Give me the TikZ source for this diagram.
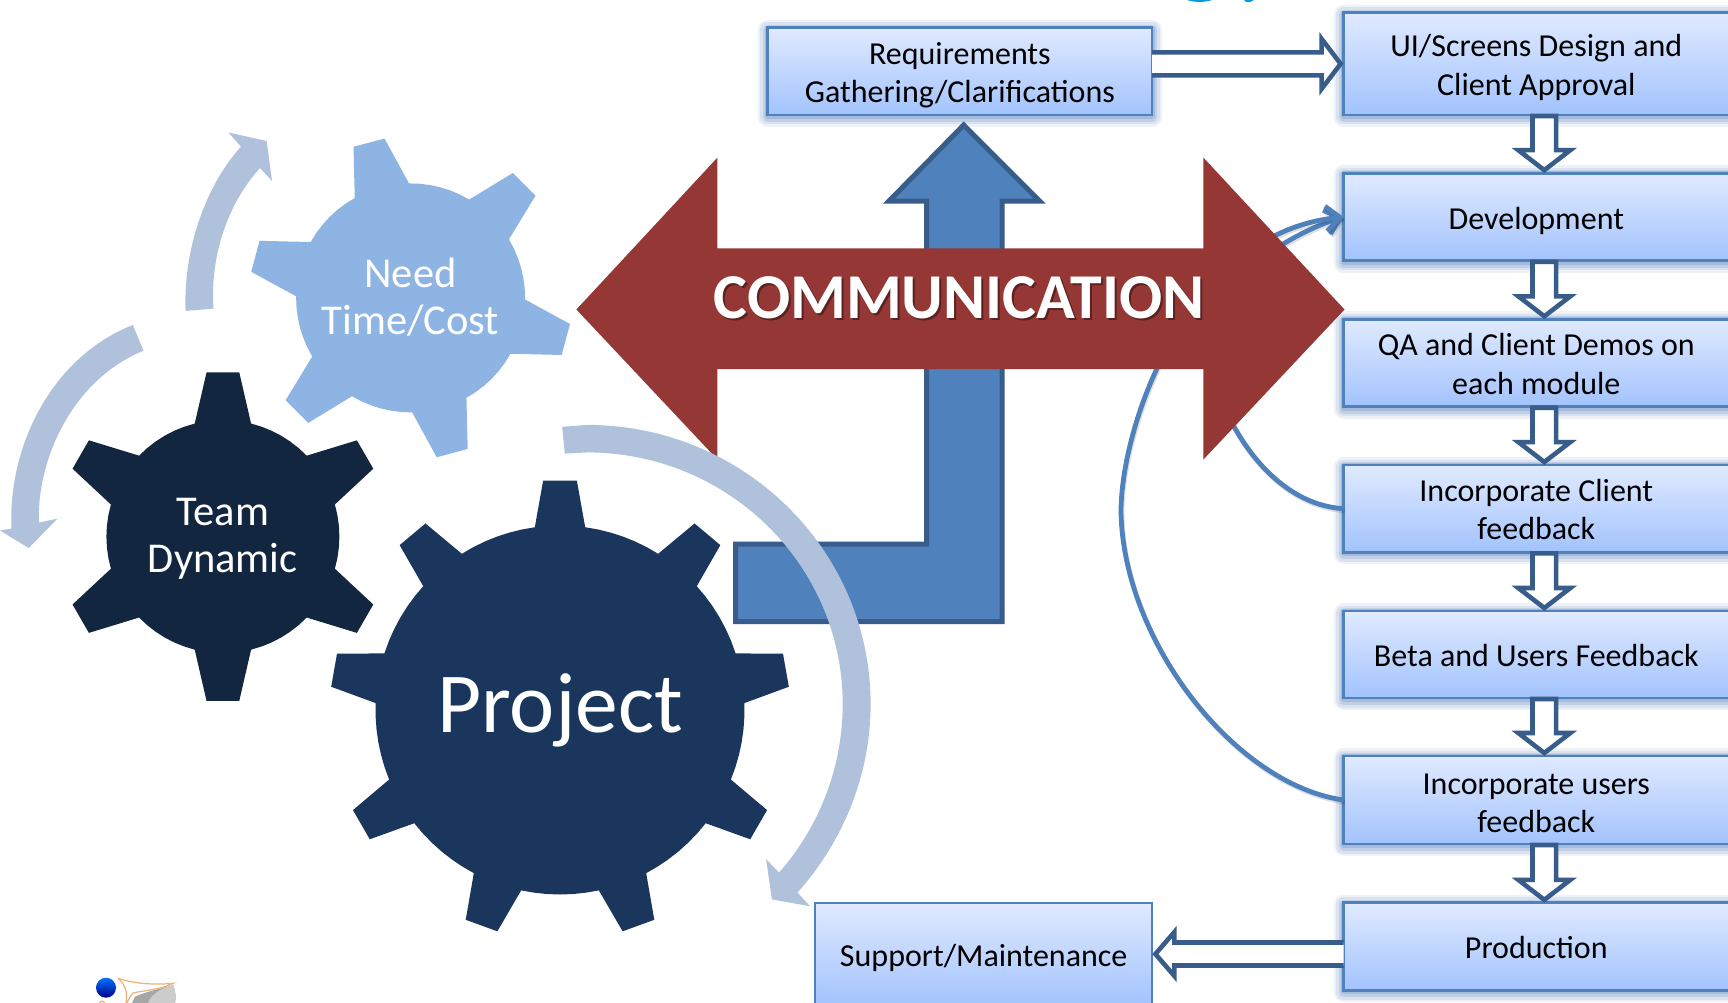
\documentclass[tikz,border=0pt]{standalone}
\usepackage{fontspec}
\setmainfont{Carlito}
\usetikzlibrary{calc,arrows.meta}
\definecolor{needc}{HTML}{8EB4E3}
\definecolor{teamc}{HTML}{12263F}
\definecolor{projc}{HTML}{1A365D}
\definecolor{arcc}{HTML}{B0C1DC}
\definecolor{redc}{HTML}{953735}
\definecolor{bluec}{HTML}{4F81BD}
\definecolor{blued}{HTML}{385D8A}
\definecolor{glowc}{HTML}{5F83BE}
\definecolor{boxtop}{HTML}{E0EAFF}
\definecolor{boxbot}{HTML}{A2C3FD}
\tikzset{
  basebox/.style={draw=bluec,top color=boxtop,bottom color=boxbot,inner sep=0pt,outer sep=0pt},
  boxlabel/.style={inner sep=0pt,outer sep=0pt,align=center,text=black,font=\fontsize{32}{38.5}\selectfont},
  glowbox/.style={basebox,line width=2.8pt,
    preaction={draw=glowc,line width=20pt,opacity=.10,line join=round,transform canvas={yshift=-2pt}},
    preaction={draw=glowc,line width=15pt,opacity=.14,line join=round,transform canvas={yshift=-2pt}},
    preaction={draw=glowc,line width=10pt,opacity=.20,line join=round,transform canvas={yshift=-2pt}},
    preaction={draw=glowc,line width=6pt,opacity=.26,line join=round,transform canvas={yshift=-1pt}}},
  hollow/.style={draw=blued,fill=white,line width=4.6pt,line join=miter},
  feedback/.style={draw=bluec,line width=4.8pt,
    preaction={draw=black,line width=4.8pt,opacity=.12,transform canvas={yshift=-2pt,xshift=1pt}}},
  geartext/.style={text=white,align=center,font=\fontsize{42.5}{46.7}\selectfont},
  flowbar/.style={draw=blued,fill=bluec,line width=5pt,line join=miter},
}
% centre x, centre y, teeth, first tooth angle, body radius, base half angle, tip radius, tip half angle, colour
\newcommand{\gearshape}[9]{%
  \fill[#9,shift={(#1,#2)}] ({#4-#6}:#5)
    \foreach \k [evaluate=\k as \aa using #4+\k*360/#3,
                 evaluate=\k as \bb using #4+\k*360/#3+#6,
                 evaluate=\k as \cc using #4+(\k+1)*360/#3-#6] in {0,...,\numexpr#3-1\relax}{
      -- ({\aa-#8}:#7) -- ({\aa+#8}:#7) -- (\bb:#5)
      -- plot[domain=\bb:\cc,samples=7] (\x:#5)
    } -- cycle;}
\newcommand{\hollowdown}[2]{%
  \path[hollow] let \p1=([xshift=8pt]#1.south),\p2=([xshift=8pt]#2.north) in
    (\x1-11.8pt,\y1-1pt) -- (\x1-11.8pt,\y2+23pt) -- (\x1-26pt,\y2+23pt) -- (\x1,\y2+3pt)
    -- (\x1+26pt,\y2+23pt) -- (\x1+11.8pt,\y2+23pt) -- (\x1+11.8pt,\y1-1pt) -- cycle;}
\newcommand{\hollowright}[2]{%
  \path[hollow] let \p1=(#1.east),\p2=(#2.west) in
    (\x1,\y2+11.5pt) -- (\x2-22pt,\y2+11.5pt) -- (\x2-22pt,\y2+25pt) -- (\x2-3pt,\y2)
    -- (\x2-22pt,\y2-25pt) -- (\x2-22pt,\y2-11.5pt) -- (\x1,\y2-11.5pt);}
\newcommand{\hollowleft}[2]{%
  \path[hollow] let \p1=(#1.west),\p2=(#2.east) in
    (\x1,\y2+11.5pt) -- (\x2+22pt,\y2+11.5pt) -- (\x2+22pt,\y2+22pt) -- (\x2+3pt,\y2)
    -- (\x2+22pt,\y2-22pt) -- (\x2+22pt,\y2-11.5pt) -- (\x1,\y2-11.5pt);}
\begin{document}
\begin{tikzpicture}[x=1pt,y=-1pt]
\useasboundingbox (0,0) rectangle (1728,1003);
\clip (0,0) rectangle (1728,1003);
\fill[white] (0,0) rectangle (1728,1003);

% title fragments cut by the top edge
\fill[cyan!85!blue] (1187,0) -- (1212,0) .. controls (1206,2.5) and (1193,2.5) .. (1187,0) -- cycle;
\fill[cyan!85!blue] (1244,0) -- (1254,0) -- (1250,2) -- (1246,2) -- cycle;

% gears
\gearshape{410.6}{297.9}{6}{15}{114.5}{14.2}{161.5}{5.7}{needc}
\gearshape{222.9}{536.6}{6}{-90}{116.5}{14}{165}{5.7}{teamc}
\gearshape{560}{710}{9}{-90}{184.5}{7.85}{230}{4.2}{projc}
\node[geartext] (need) at (410.5,297) {Need\\Time/Cost};
\node[geartext] (team) at (222.8,539) {Team\\Dynamic};
\node[text=white,font=\fontsize{85.5}{92}\selectfont] (proj) at (560,710.5) {Project};

% boxes
\node[glowbox,minimum width=384.3pt,minimum height=87.3pt,label={[boxlabel,yshift=-4pt]center:Requirements\\Gathering/Clarifications}] (req) at (959.9,71.3) {};
\node[glowbox,minimum width=385.4pt,minimum height=102.3pt,label={[boxlabel,yshift=-3.5pt]center:UI/Screens Design and\\Client Approval}] (ui) at (1536.3,63.85) {};
\node[glowbox,minimum width=385.4pt,minimum height=87.7pt,label={[boxlabel,yshift=-3.5pt]center:Development}] (dev) at (1536.3,217) {};
\node[glowbox,minimum width=385.4pt,minimum height=87.4pt,label={[boxlabel,yshift=-.8pt]center:QA and Client Demos on\\each module}] (qa) at (1536.3,363) {};
\node[glowbox,minimum width=385.4pt,minimum height=87.3pt,label={[boxlabel,yshift=-.8pt]center:Incorporate Client\\feedback}] (incc) at (1536.3,508.7) {};
\node[glowbox,minimum width=385.4pt,minimum height=87pt,label={[boxlabel,yshift=-1pt]center:Beta and Users Feedback}] (beta) at (1536.3,654.5) {};
\node[glowbox,minimum width=385.4pt,minimum height=88pt,label={[boxlabel,yshift=-3.5pt]center:Incorporate users\\feedback}] (incu) at (1536.3,800) {};
\node[glowbox,minimum width=385.4pt,minimum height=87.3pt,label={[boxlabel,yshift=-1pt]center:Production}] (prod) at (1536.3,946.5) {};
\node[basebox,line width=2pt,minimum width=337.4pt,minimum height=102pt,label={[boxlabel,yshift=-3.5pt]center:Support/Maintenance}] (sup) at (983.7,954) {};

% feedback connectors (behind the red arrow)
\coordinate (via1) at (1205,350);
\coordinate (via2) at (1121,510);
\draw[feedback,-{Straight Barb[length=14pt,width=25pt]}] (incc.west) .. controls (1280,505) and (1226,440) .. (via1) .. controls (1200,290) and (1285,235) .. (dev.west);
\draw[feedback,-{Straight Barb[length=14pt,width=25pt]}] (incu.west) .. controls (1235,785) and (1122,640) .. (via2) .. controls (1122,420) and (1190,232) .. (dev.west);

% hollow flow arrows
\hollowright{req}{ui}
\hollowdown{ui}{dev}
\hollowdown{dev}{qa}
\hollowdown{qa}{incc}
\hollowdown{incc}{beta}
\hollowdown{beta}{incu}
\hollowdown{incu}{prod}
\hollowleft{prod}{sup}

% bent blue arrow
\path[flowbar] (963.7,125) -- (1039.5,201) -- (1002,201) -- (1002,621.5) -- (735.5,621.5) -- (735.5,544) -- (926.5,544) -- (926.5,201) -- (889,201) -- cycle;

% red double arrow
\fill[redc] (576.4,309.5) -- (717.4,157.6) -- (717.4,248.3) -- (1203.4,248.3) -- (1203.4,157.6) -- (1344.5,309.5) -- (1203.4,459.5) -- (1203.4,369) -- (717.4,369) -- (717.4,459.5) -- cycle;
\node[text=black,opacity=.4,font=\fontsize{63.9}{70}\bfseries\selectfont] (commshade) at (961,299.6) {COMMUNICATION};
\node[text=white,font=\fontsize{63.9}{70}\bfseries\selectfont] (comm) at (959,297.6) {COMMUNICATION};

% curved cycle arrows
\fill[arcc] (185.6,310.9) .. controls (183,245) and (208.6,182) .. (241,146.7) -- (228.5,132.5) -- (266.7,141) -- (272,181) -- (260,168) .. controls (229.6,201.4) and (209.7,253) .. (213.5,308.6) -- cycle;
\fill[arcc] (132.8,325) .. controls (53.6,356) and (7.7,444) .. (11.5,528.6) -- (0,530.5) -- (28.7,548.1) -- (57.4,518.7) -- (39,522.5) .. controls (36.4,459.7) and (72.7,379.4) .. (143.5,350.7) -- cycle;
\fill[arcc] (562.2,426.8) -- (587,424.9) .. controls (743.6,424.9) and (870.6,550) .. (870.6,704.2) .. controls (870.6,773.8) and (843.9,840.6) .. (797.5,892.5) -- (810,906.2) -- (771.9,899.4) -- (766.1,859.2) -- (779.1,872.6) .. controls (820,826) and (842.7,766) .. (842.7,704.2) .. controls (842.7,565.1) and (728.2,452.4) .. (587,452.4) -- (564.8,453.6) -- cycle;

% logo fragment
\shade[top color=blue!55!cyan,bottom color=blue!55!black] (106,987.7) circle (10);
\fill[gray!70] (135,996.7) .. controls (150,990) and (165,988) .. (173,985) .. controls (176,992) and (176,998) .. (175,1003) -- (132,1003) -- cycle;
\fill[gray!40] (148,1003) .. controls (150,997) and (155,993) .. (162,989) -- (173,985) .. controls (176,992) and (176,998) .. (175,1003) -- cycle;
\draw[orange!50!brown!60,line width=1.2pt] (118.3,978.3) .. controls (135,984) and (155,985) .. (173.3,983.3) .. controls (160,990) and (145,990) .. (133,993) .. controls (130,997) and (128,1000) .. (127,1003);
\draw[orange!50!brown!60,line width=1.2pt] (118.3,978.3) .. controls (124,984) and (128,990) .. (126,1003);
\draw[orange!50!brown!60,line width=1.2pt] (99,1003) -- (102,1001) -- (105,1003);
\end{tikzpicture}
\end{document}
